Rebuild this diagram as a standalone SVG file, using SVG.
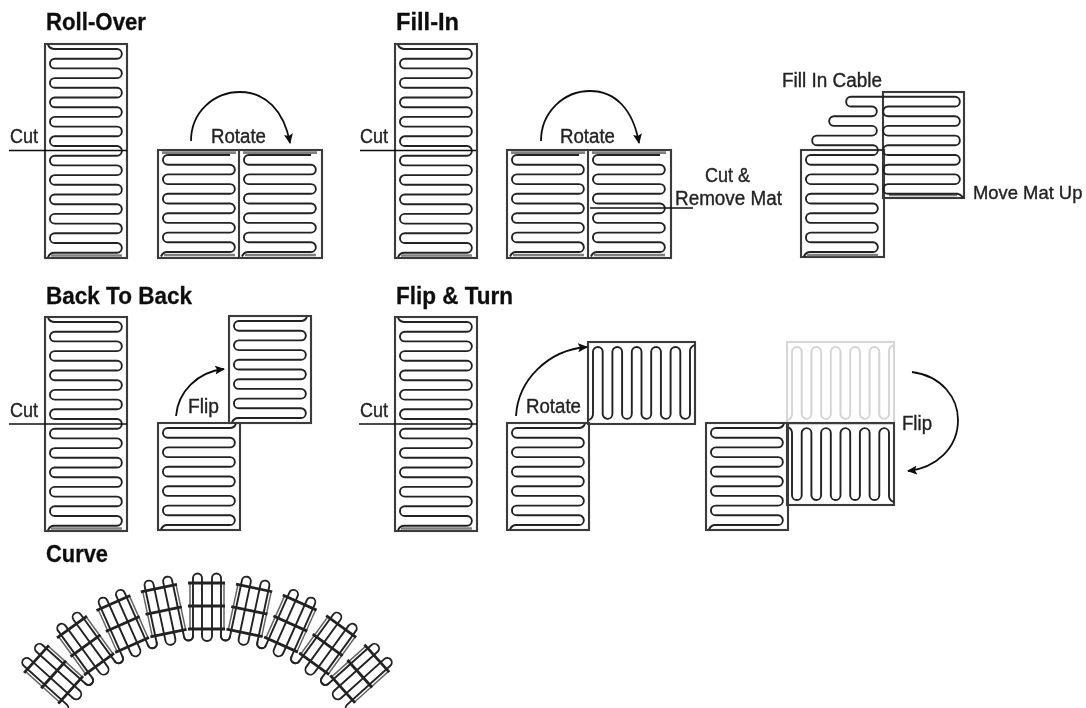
<svg xmlns="http://www.w3.org/2000/svg" xmlns:xlink="http://www.w3.org/1999/xlink" width="1086" height="708" viewBox="0 0 1086 708">
<style>
.c{fill:none;stroke:#222;stroke-width:1.9}
.f{fill:none;stroke:#3a3a3a;stroke-width:2.1}
.b{fill:none;stroke:#808080;stroke-width:2.6}
.l{fill:none;stroke:#111;stroke-width:1.7}
.a{fill:none;stroke:#111;stroke-width:1.8;marker-end:url(#ah)}
.ti{font:bold 23px "Liberation Sans",Arial,sans-serif;fill:#111;stroke:#111;stroke-width:.3}
.t{font:20px "Liberation Sans",Arial,sans-serif;fill:#222;stroke:#222;stroke-width:.35}
.bar{fill:none;stroke:#222;stroke-width:2.8}
.rail{fill:none;stroke:#666;stroke-width:1.5}
</style>
<defs>
<filter id="soft" filterUnits="userSpaceOnUse" x="0" y="0" width="1086" height="708"><feGaussianBlur stdDeviation="0.4"/></filter>
<marker id="ah" markerUnits="userSpaceOnUse" markerWidth="11" markerHeight="11" refX="9" refY="5" orient="auto"><path d="M0 0.5L10 5L0 9.5L2 5Z" fill="#111"/></marker>
<path id="coil" class="c" d="M72 5H9.8a4.85 4.85 0 0 0 0 9.7H72a4.85 4.85 0 0 1 0 9.7H9.8a4.85 4.85 0 0 0 0 9.7H72a4.85 4.85 0 0 1 0 9.7H9.8a4.85 4.85 0 0 0 0 9.7H72a4.85 4.85 0 0 1 0 9.7H9.8a4.85 4.85 0 0 0 0 9.7H72a4.85 4.85 0 0 1 0 9.7H9.8a4.85 4.85 0 0 0 0 9.7H72a4.85 4.85 0 0 1 0 9.7H9Q5 102 3 106.5"/>
<g id="mat"><rect class="f" width="82" height="107"/><use xlink:href="#coil" href="#coil"/><path class="c" d="M78 1Q76 5 72 5"/></g>
<g id="half"><use xlink:href="#coil" href="#coil"/><path class="b" d="M4 2.6H78M6 105H77"/></g>
<g id="tall"><rect class="f" width="82" height="214"/><path class="c" d="M3 1Q5 5 9.8 5H72a4.85 4.85 0 0 1 0 9.7H9.8a4.85 4.85 0 0 0 0 9.7H72a4.85 4.85 0 0 1 0 9.7H9.8a4.85 4.85 0 0 0 0 9.7H72a4.85 4.85 0 0 1 0 9.7H9.8a4.85 4.85 0 0 0 0 9.7H72a4.85 4.85 0 0 1 0 9.7H9.8a4.85 4.85 0 0 0 0 9.7H72a4.85 4.85 0 0 1 0 9.7H9.8a4.85 4.85 0 0 0 0 9.7H72a4.85 4.85 0 0 1 0 9.7"/><use xlink:href="#coil" href="#coil" y="106.7"/><path class="b" d="M6 211.5H77"/></g>
<g id="tile"><path class="rail" d="M190 583V629M224 583V629"/><path class="c" d="M184 636a4.5 4.5 0 0 0 9 0V578a4.5 4.5 0 0 1 9 0V636a5 5 0 0 0 10 0V578a4.5 4.5 0 0 1 9 0V636a4.5 4.5 0 0 0 9 0"/><path class="bar" d="M188 583H225M188 606H225M188 629H225"/></g>
</defs>
<g filter="url(#soft)">
<g id="roll-over">
<text class="ti" x="46" y="30" textLength="100" lengthAdjust="spacingAndGlyphs">Roll-Over</text>
<use id="roll-tall" xlink:href="#tall" href="#tall" x="45" y="44"/>
<rect class="f" x="158" y="150" width="164" height="108"/>
<path class="f" d="M239 150V258"/>
<use xlink:href="#half" href="#half" x="158" y="150"/>
<use xlink:href="#half" href="#half" x="239" y="150"/>
<text class="t" x="10" y="143" textLength="28" lengthAdjust="spacingAndGlyphs">Cut</text>
<text class="t" x="211" y="143" textLength="55" lengthAdjust="spacingAndGlyphs">Rotate</text>
</g>

<g id="fill-in">
<text class="ti" x="396" y="30" textLength="63" lengthAdjust="spacingAndGlyphs">Fill-In</text>
<use id="fill-tall" xlink:href="#tall" href="#tall" x="395" y="44"/>
<rect class="f" x="507" y="150" width="164" height="108"/>
<path class="f" d="M588 150V258"/>
<use xlink:href="#half" href="#half" x="507" y="150"/>
<use xlink:href="#half" href="#half" x="588" y="150"/>
<text class="t" x="360" y="143" textLength="28" lengthAdjust="spacingAndGlyphs">Cut</text>
<text class="t" x="560" y="143" textLength="55" lengthAdjust="spacingAndGlyphs">Rotate</text>
<text class="t" x="705" y="182" textLength="45" lengthAdjust="spacingAndGlyphs">Cut &amp;</text>
<text class="t" x="675" y="205" textLength="107" lengthAdjust="spacingAndGlyphs">Remove Mat</text>
</g>

<g id="fill-in-cable">
<rect class="f" x="883" y="92" width="81" height="106"/>
<rect class="f" x="801" y="150" width="83" height="107"/>
<use xlink:href="#coil" href="#coil" x="801" y="150"/>
<path class="b" d="M807 255H878M889 195H957"/>
<path class="c" d="M873 155a4.85 4.85 0 0 0 0 -9.7H817a4.85 4.85 0 0 1 0 -9.7H872a4.85 4.85 0 0 0 0 -9.7H834a4.85 4.85 0 0 1 0 -9.7H872a4.85 4.85 0 0 0 0 -9.7H851a4.85 4.85 0 0 1 0 -9.7H955a4.85 4.85 0 0 1 0 9.7H888a4.85 4.85 0 0 0 0 9.7H955a4.85 4.85 0 0 1 0 9.7H888a4.85 4.85 0 0 0 0 9.7H955a4.85 4.85 0 0 1 0 9.7H888a4.85 4.85 0 0 0 0 9.7H955a4.85 4.85 0 0 1 0 9.7H888a4.85 4.85 0 0 0 0 9.7H955a4.85 4.85 0 0 1 0 9.7H888a4.85 4.85 0 0 0 0 9.7H958Q962 195 963 198"/>
<text class="t" x="782" y="87" textLength="100" lengthAdjust="spacingAndGlyphs">Fill In Cable</text>
<text class="t" x="973" y="199" style="font-size:18.4px">Move Mat Up</text>
</g>

<g id="back-to-back">
<text class="ti" x="46" y="304" textLength="146" lengthAdjust="spacingAndGlyphs">Back To Back</text>
<use id="back-tall" xlink:href="#tall" href="#tall" x="45" y="317"/>
<use xlink:href="#mat" href="#mat" x="229" y="316"/>
<use xlink:href="#mat" href="#mat" x="158" y="423"/>
<text class="t" x="10" y="417" textLength="28" lengthAdjust="spacingAndGlyphs">Cut</text>
<text class="t" x="188" y="413" textLength="31" lengthAdjust="spacingAndGlyphs">Flip</text>
</g>

<g id="flip-and-turn">
<text class="ti" x="396" y="304" textLength="117" lengthAdjust="spacingAndGlyphs">Flip &amp; Turn</text>
<use id="flip-tall" xlink:href="#tall" href="#tall" x="395" y="317"/>
<use xlink:href="#mat" href="#mat" transform="matrix(0 1 1 0 588 342)"/>
<use xlink:href="#mat" href="#mat" x="507" y="423"/>
<use xlink:href="#mat" href="#mat" transform="matrix(0 1 1 0 787 342)" opacity="0.2"/>
<use xlink:href="#mat" href="#mat" transform="matrix(0 -1 1 0 787 505)"/>
<use xlink:href="#mat" href="#mat" x="706" y="423"/>
<text class="t" x="360" y="417" textLength="28" lengthAdjust="spacingAndGlyphs">Cut</text>
<text class="t" x="526" y="413" textLength="55" lengthAdjust="spacingAndGlyphs">Rotate</text>
<text class="t" x="902" y="430" textLength="30" lengthAdjust="spacingAndGlyphs">Flip</text>
</g>

<g id="curve">
<text class="ti" x="46" y="562" textLength="62" lengthAdjust="spacingAndGlyphs">Curve</text>
<use xlink:href="#tile" href="#tile" transform="rotate(-48 207 812)"/>
<use xlink:href="#tile" href="#tile" transform="rotate(-36 207 812)"/>
<use xlink:href="#tile" href="#tile" transform="rotate(-24 207 812)"/>
<use xlink:href="#tile" href="#tile" transform="rotate(-12 207 812)"/>
<use xlink:href="#tile" href="#tile"/>
<use xlink:href="#tile" href="#tile" transform="rotate(12 207 812)"/>
<use xlink:href="#tile" href="#tile" transform="rotate(24 207 812)"/>
<use xlink:href="#tile" href="#tile" transform="rotate(36 207 812)"/>
<use xlink:href="#tile" href="#tile" transform="rotate(48 207 812)"/>
</g>

<g id="connectors">
<path class="l" d="M9 150.5H127M360 150.5H476M9 424H127M359 424H477M693 208H590"/>
<path class="a" d="M191 141C191 112 214 92 240 92C265 92 284 110 290 143"/>
<path class="a" d="M541 141C541 112 564 91 590 91C615 91 633 109 639 143"/>
<path class="a" d="M176 416C178 392 197 372 224 369"/>
<path class="a" d="M516 416C518 380 548 350 587 347"/>
<path class="a" d="M912 372C942 376 958 398 958 420C958 448 936 468 908 471"/>
</g>
</g>
</svg>
